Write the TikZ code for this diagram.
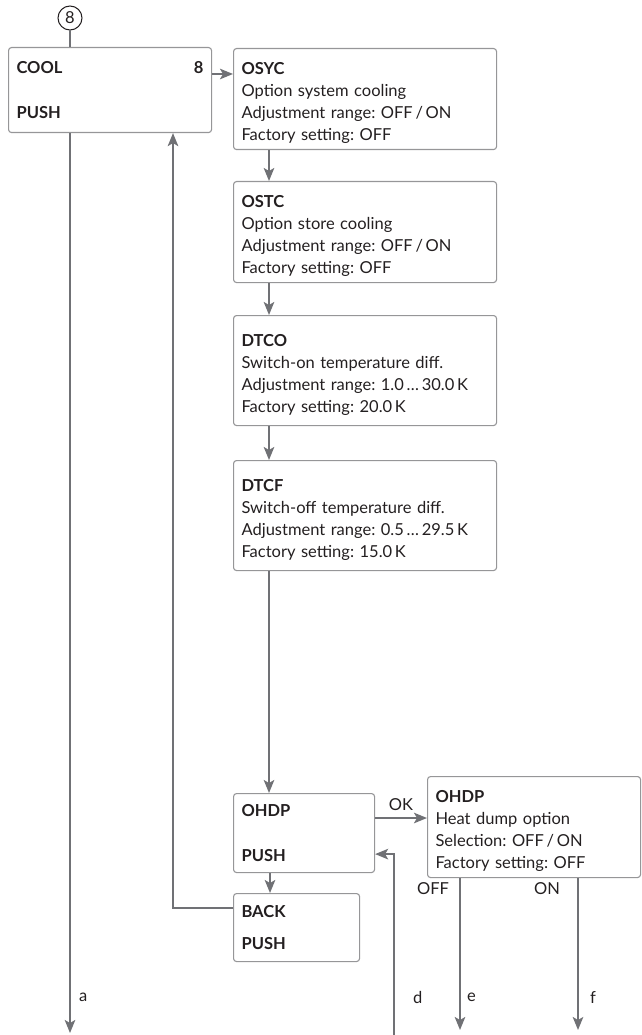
\documentclass[tikz,border=0pt]{standalone}
\usepackage{fontspec}
\setmainfont{Lato}
\usetikzlibrary{positioning,arrows.meta,calc}
\frenchspacing

\begin{document}
\begin{tikzpicture}[x=1pt, y=-1pt,
    font=\fontsize{16.5}{22}\selectfont,
    menubox/.style={rectangle, rounded corners=3pt, draw=boxgray, line width=1.1pt,
      anchor=north west, align=left, inner xsep=8pt, inner ysep=0pt, text=txtblack},
    infobox/.style={menubox, minimum width=263pt, text width=247pt,
      execute at begin node=\rule{0pt}{20pt}},
    flow/.style={-{Stealth[length=13pt, width=10.5pt, inset=3pt]}, line width=2pt, draw=linegray},
    link/.style={line width=2pt, draw=linegray},
    tag/.style={text=txtblack, inner sep=1pt},
  ]
  \definecolor{linegray}{RGB}{112,113,117}
  \definecolor{boxgray}{RGB}{150,150,152}
  \definecolor{txtblack}{RGB}{35,31,32}

  \useasboundingbox (0,0) rectangle (641,1035);

  % main menu entry
  \node[circle, draw=txtblack, line width=1pt, minimum size=24pt, inner sep=0pt, text=txtblack] (c8) at (70,18) {8};
  \node[menubox, minimum width=203pt, minimum height=85pt, text width=187pt] (cool) at (8,47)
    {\textbf{COOL}\hfill\textbf{8}\hspace{7pt}\\[23pt]\textbf{PUSH}};
  \draw[link] (c8.south) -- (c8.south |- cool.north);

  % sub menu
  \node[infobox, minimum height=101pt] (osyc) at (233,48)
    {\textbf{OSYC}\\Option system cooling\\Adjustment range: OFF\,/\,ON\\Factory setting: OFF};
  \node[infobox, minimum height=101pt] (ostc) at (233,181)
    {\textbf{OSTC}\\Option store cooling\\Adjustment range: OFF\,/\,ON\\Factory setting: OFF};
  \node[infobox, minimum height=110pt] (dtco) at (233,315)
    {\textbf{DTCO}\\Switch-on temperature diff.\\Adjustment range: 1.0\,…\,30.0\,K\\Factory setting: 20.0\,K};
  \node[infobox, minimum height=110pt] (dtcf) at (233,460)
    {\textbf{DTCF}\\Switch-off temperature diff.\\Adjustment range: 0.5\,…\,29.5\,K\\Factory setting: 15.0\,K};

  \node[menubox, minimum width=141pt, minimum height=79pt, text width=125pt] (ohdp) at (233,793)
    {\textbf{OHDP}\\[23pt]\textbf{PUSH}};
  \node[menubox, minimum width=126pt, minimum height=68pt, text width=110pt] (back) at (233,893)
    {\textbf{BACK}\\[10pt]\textbf{PUSH}};
  \node[infobox, minimum width=213pt, minimum height=101pt, text width=197pt] (heat) at (427,776)
    {\textbf{OHDP}\\Heat dump option\\Selection: OFF\,/\,ON\\Factory setting: OFF};

  \draw[flow] ([yshift=-27pt]cool.north east) -- ([yshift=-26pt]osyc.north west);
  \draw[flow] ([xshift=36pt]osyc.south west) -- ([xshift=36pt]ostc.north west);
  \draw[flow] ([xshift=36pt]ostc.south west) -- ([xshift=36pt]dtco.north west);
  \draw[flow] ([xshift=36pt]dtco.south west) -- ([xshift=36pt]dtcf.north west);
  \draw[flow] ([xshift=36pt]dtcf.south west) -- ([xshift=36pt]ohdp.north west);
  \draw[flow] ([xshift=37pt]ohdp.south west) -- ([xshift=37pt]back.north west);

  % OK branch
  \coordinate (okstart) at ($(ohdp.north east)+(0,25)$);
  \draw[flow] (okstart) -- (okstart -| heat.west) node[tag, midway, above=5pt] (lblok) {OK};

  % back to main menu
  \draw[flow] ($(back.north west)+(0,15)$) -| ($(cool.south west)+(165,0)$);

  % exits
  \coordinate (aend) at (70,1033);
  \coordinate (dend) at (394,1035);
  \coordinate (eend) at (460,1030);
  \coordinate (fend) at (578,1030);
  \draw[flow] (cool.south -| aend) -- (aend);
  \draw[flow] (dend) |- ($(ohdp.south east)+(0,-19)$);
  \draw[flow] (heat.south -| eend) -- (eend);
  \draw[flow] (heat.south -| fend) -- (fend);

  \node[tag, anchor=west] (lbla) at (78,997) {a};
  \node[tag, anchor=west] (lbld) at (412,997) {d};
  \node[tag, anchor=west] (lble) at (466,997) {e};
  \node[tag, anchor=west] (lblf) at (589,997) {f};
  \node[tag] (lbloff) at (433,889) {OFF};
  \node[tag] (lblon) at (547,889) {ON};
\end{tikzpicture}
\end{document}
